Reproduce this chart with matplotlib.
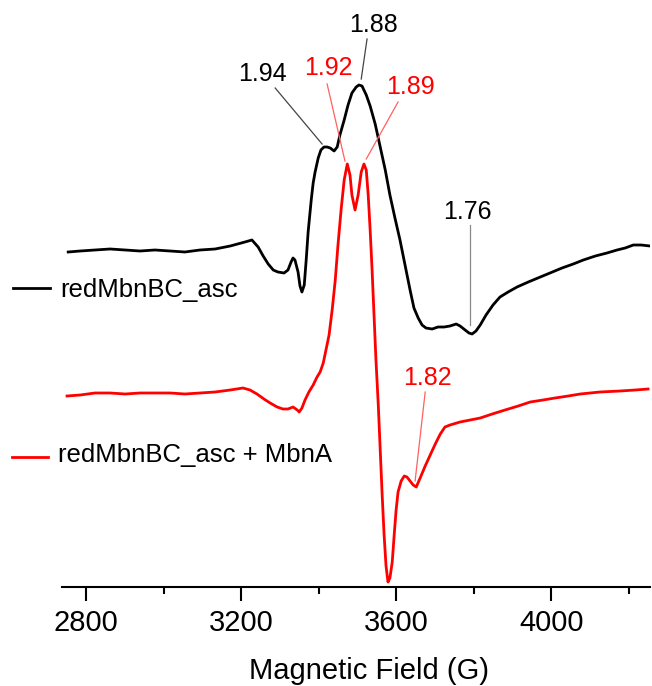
import numpy as np
import matplotlib
matplotlib.use("Agg")
import matplotlib.pyplot as plt
from matplotlib.lines import Line2D

plt.rcParams['font.family'] = ['Liberation Sans', 'DejaVu Sans']

# black trace: redMbnBC_asc (field in G, signal in a.u.)
field_black = [2754, 2785, 2823, 2862, 2901, 2939, 2978, 3017, 3055, 3094, 3133, 3172,
               3210, 3228, 3244, 3257, 3270, 3283, 3295, 3311, 3321, 3329, 3334, 3339,
               3347, 3352, 3357, 3363, 3368, 3373, 3381, 3386, 3391, 3399, 3406, 3414,
               3422, 3430, 3440, 3448, 3455, 3466, 3476, 3486, 3497, 3504, 3512, 3523,
               3533, 3546, 3559, 3572, 3584, 3597, 3610, 3623, 3636, 3646, 3657, 3667,
               3677, 3693, 3708, 3724, 3739, 3755, 3765, 3778, 3788, 3796, 3806, 3817,
               3832, 3850, 3868, 3889, 3912, 3941, 3972, 3997, 4028, 4057, 4083, 4114,
               4144, 4170, 4191, 4212, 4232, 4255]
signal_black = [0, 1, 2, 3, 2, 1, 2, 1, 0, 2, 3, 6,
                10, 12, 5, -4, -12, -18, -20, -21, -18, -10, -6, -8,
                -20, -34, -40, -33, -8, 20, 52, 69, 80, 94, 102, 105,
                105, 104, 101, 105, 117, 132, 147, 159, 165, 167, 166, 157,
                146, 128, 105, 82, 57, 34, 12, -13, -38, -56, -66, -73,
                -76, -77, -75, -75, -74, -72, -74, -78, -81, -82, -79, -73,
                -63, -53, -45, -40, -35, -30, -25, -21, -16, -12, -8, -4,
                -1, 2, 4, 7, 7, 6]

# red trace: redMbnBC_asc + MbnA
field_red = [2751, 2785, 2823, 2862, 2901, 2939, 2978, 3017, 3055, 3094, 3133, 3172,
             3205, 3223, 3241, 3259, 3275, 3293, 3308, 3321, 3334, 3345, 3350, 3357,
             3365, 3375, 3386, 3396, 3404, 3412, 3419, 3427, 3435, 3443, 3450, 3458,
             3466, 3474, 3481, 3486, 3494, 3502, 3510, 3517, 3523, 3528, 3533, 3538,
             3543, 3548, 3554, 3559, 3564, 3569, 3574, 3579, 3584, 3590, 3595, 3600,
             3605, 3613, 3621, 3628, 3636, 3644, 3652, 3662, 3675, 3688, 3701, 3714,
             3726, 3739, 3765, 3791, 3817, 3848, 3881, 3915, 3946, 3979, 4010, 4044,
             4075, 4126, 4178, 4217, 4250]
signal_red = [-3, -2, 0, 0, -1, 0, 0, 0, -1, 0, 1, 3,
              5, 3, -1, -6, -10, -14, -16, -16, -14, -17, -19, -15,
              -7, 1, 8, 16, 21, 30, 43, 58, 83, 113, 148, 183,
              213, 229, 218, 198, 183, 198, 221, 229, 223, 198, 163, 123,
              78, 33, -12, -57, -102, -142, -173, -189, -185, -169, -142, -117,
              -99, -88, -83, -84, -88, -92, -94, -85, -73, -62, -51, -41,
              -34, -32, -29, -27, -25, -21, -17, -13, -9, -7, -5, -3,
              -1, 1, 2, 3, 4]

offset_black = 335
offset_red = 194

xticks_major = [2800, 3200, 3600, 4000]
xticks_minor = [3000, 3400, 3800, 4200]

# g-value labels: text, colour, text pos, leader line start/end
g_labels = [
    ("1.88", "black", (3541, 562), (3525, 548), (3510, 508), "#444444"),
    ("1.94", "black", (3254, 513), (3288, 499), (3409, 443), "#444444"),
    ("1.92", "red", (3425, 519), (3422, 503), (3468, 426), "#ff6060"),
    ("1.89", "red", (3636, 500), (3605, 485), (3523, 428), "#ff6060"),
    ("1.76", "black", (3783, 375), (3791, 362), (3791, 262), "#888888"),
    ("1.82", "red", (3680, 209), (3675, 195), (3649, 106), "#ff6060"),
]

fig = plt.figure(figsize=(6.52, 6.86), dpi=100)
ax = fig.add_axes([62 / 652, 99 / 686, 588 / 652, 587 / 686])

ax.plot(field_black, np.array(signal_black) + offset_black, color="black", lw=2.0)
ax.plot(field_red, np.array(signal_red) + offset_red, color="#ff0000", lw=2.0)

for txt, col, tpos, p0, p1, lcol in g_labels:
    ax.text(tpos[0], tpos[1], txt, color=col, fontsize=18, ha="center", va="center")
    ax.plot([p0[0], p1[0]], [p0[1], p1[1]], color=lcol, lw=0.9, clip_on=False)

ax.set_xlim(2738, 4255)
ax.set_ylim(0, 587)
for s in ["top", "left", "right"]:
    ax.spines[s].set_visible(False)
ax.spines["bottom"].set_linewidth(1.5)
ax.set_yticks([])
ax.set_xticks(xticks_major)
ax.set_xticks(xticks_minor, minor=True)
ax.tick_params(axis="x", which="major", length=10, width=1.5, labelsize=21, pad=6)
ax.tick_params(axis="x", which="minor", length=5, width=1.5)
ax.set_xlabel("Magnetic Field (G)", fontsize=21, labelpad=14)
ax.xaxis.set_label_coords((369 - 62) / 588, -0.12)

# legend entries next to each trace
fig.add_artist(Line2D([13 / 652, 50 / 652], [1 - 288 / 686] * 2, color="black", lw=2.0))
fig.text(60 / 652, 1 - 290 / 686, "redMbnBC_asc", fontsize=18.5, va="center")
fig.add_artist(Line2D([12 / 652, 48 / 652], [1 - 457 / 686] * 2, color="#ff0000", lw=2.0))
fig.text(58 / 652, 1 - 455 / 686, "redMbnBC_asc + MbnA", fontsize=18.5, va="center")

fig.savefig("out.png", dpi=100)
